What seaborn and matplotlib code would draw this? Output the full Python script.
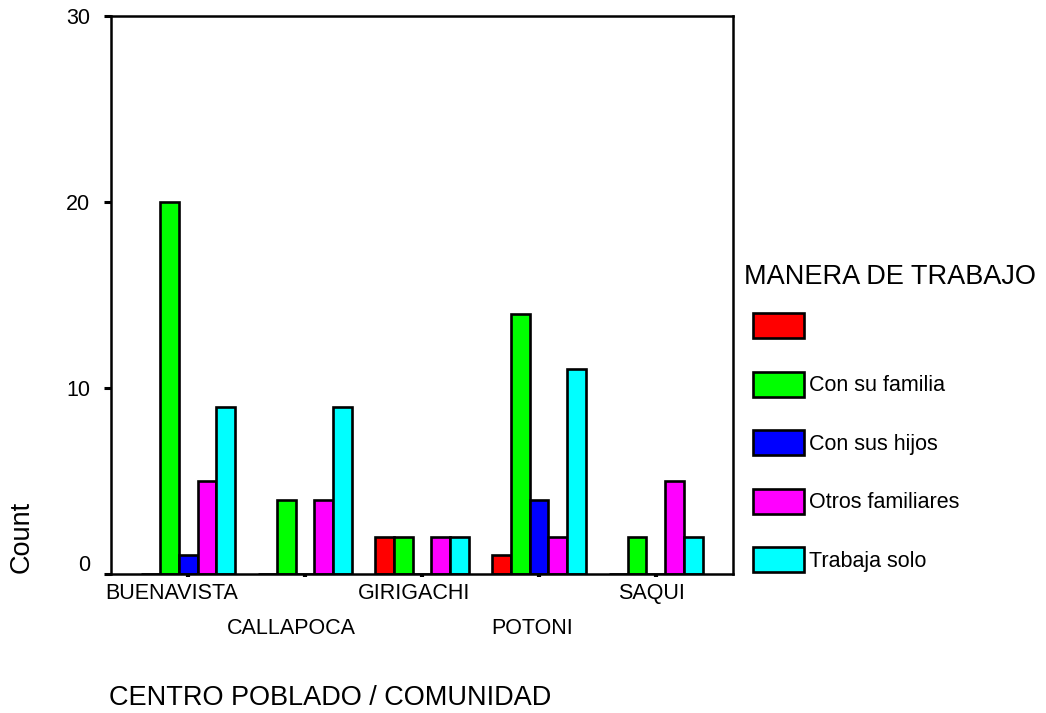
import numpy as np
import pandas as pd
import matplotlib
matplotlib.use("Agg")
import matplotlib.pyplot as plt
import matplotlib.patches as mpatches
from matplotlib.transforms import ScaledTranslation
import seaborn as sns

# data
centros = ['BUENAVISTA', 'CALLAPOCA', 'GIRIGACHI', 'POTONI', 'SAQUI']
maneras = ['', 'Con su familia', 'Con sus hijos', 'Otros familiares', 'Trabaja solo']
sin_dato = [0, 0, 2, 1, 0]
con_familia = [20, 4, 2, 14, 2]
con_hijos = [1, 0, 0, 4, 0]
otros_familiares = [5, 4, 2, 2, 5]
trabaja_solo = [9, 9, 2, 11, 2]
y_ticks = [0, 10, 20, 30]
colores = ['#FF0000', '#00FF00', '#0000FF', '#FF00FF', '#00FFFF']

conteos = [sin_dato, con_familia, con_hijos, otros_familiares, trabaja_solo]
rows = []
for manera, vals in zip(maneras, conteos):
    for c, v in zip(centros, vals):
        rows.append({'centro': c, 'manera': manera, 'count': v})
df = pd.DataFrame(rows)

sns.set_style('white')
plt.rcParams['font.family'] = ['Liberation Sans', 'DejaVu Sans']
plt.rcParams['text.color'] = 'black'
plt.rcParams['axes.labelcolor'] = 'black'
plt.rcParams['xtick.color'] = 'black'
plt.rcParams['ytick.color'] = 'black'

fig = plt.figure(figsize=(10.46, 7.13), dpi=100)
ax = fig.add_axes([111/1046, 1 - 574/713, (733-111)/1046, (574-16)/713])

palette = dict(zip(maneras, colores))
sns.barplot(data=df, x='centro', y='count', hue='manera', order=centros,
            hue_order=maneras, palette=palette, width=0.8, saturation=1,
            edgecolor='black', linewidth=1.9, legend=False, ax=ax, errorbar=None)

ax.set_xlim(-0.66, 4.66)
ax.set_ylim(0, 30)
ax.set_yticks(y_ticks)
ax.set_yticklabels([str(t) for t in y_ticks], fontsize=15.5)
ax.set_xticks(range(len(centros)))
ax.set_xticklabels(centros, fontsize=15.5)
ax.set_xlabel('')
ax.set_ylabel('')

for s in ax.spines.values():
    s.set_visible(True)
    s.set_color('black')
    s.set_linewidth(1.8)

ax.tick_params(axis='y', direction='out', length=5, width=2.2, pad=10, colors='black', left=True)
ax.tick_params(axis='x', direction='out', length=2.5, width=3, pad=4, colors='black', bottom=True)

# SPSS puts the 0 label a little above its tick
lab0 = ax.get_yticklabels()[0]
lab0.set_transform(lab0.get_transform() + ScaledTranslation(0, 11/100, fig.dpi_scale_trans))

# staggered category labels
shifts = [-16, -14, -8, -7, -4]
for i, lab in enumerate(ax.get_xticklabels()):
    dy = -35/100 if i % 2 == 1 else 0
    lab.set_transform(lab.get_transform() + ScaledTranslation(shifts[i]/100, dy, fig.dpi_scale_trans))

fig.text(109/1046, 1 - 698/713, 'CENTRO POBLADO / COMUNIDAD', fontsize=19.5,
         ha='left', va='center', color='black')
fig.text(22/1046, 1 - 537/713, 'Count', fontsize=19.5, rotation=90,
         ha='center', va='center', color='black')

# legend
fig.text(744/1046, 1 - 277/713, 'MANERA DE TRABAJO', fontsize=19.5, ha='left',
         va='center', color='black')
handles = [mpatches.Patch(facecolor=c, edgecolor='black', linewidth=1.9) for c in colores]
leg = ax.legend(handles, maneras, loc='upper left', bbox_to_anchor=(753/1046, 1 - 313/713),
                bbox_transform=fig.transFigure, frameon=False, fontsize=15.5,
                handlelength=2.37, handleheight=1.41, labelspacing=1.56,
                handletextpad=0.25, borderpad=0, borderaxespad=0)
for t in leg.get_texts():
    t.set_color('black')

fig.savefig('out.png', dpi=100)
